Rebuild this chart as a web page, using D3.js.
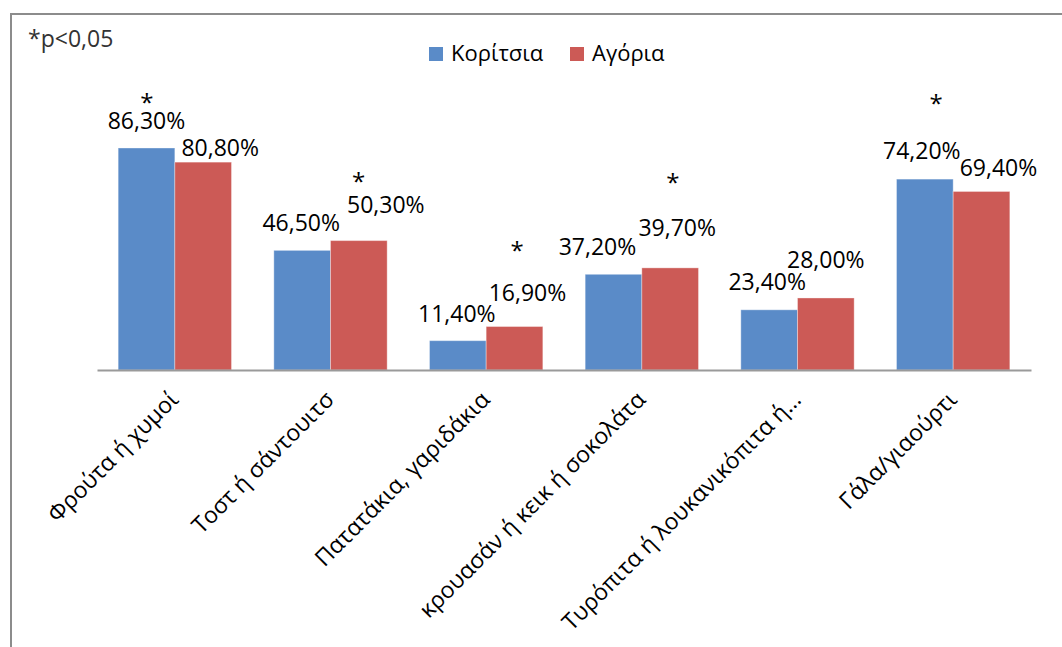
<!DOCTYPE html>
<html>
<head>
<meta charset="utf-8">
<script src="https://cdn.jsdelivr.net/npm/d3@7"></script>
<style>
  html, body { margin: 0; padding: 0; background: #fff; }
  svg { display: block; }
  text { font-family: "Open Sans", "Noto Sans", sans-serif; }
</style>
</head>
<body>
<svg id="chart" width="1062" height="647"></svg>
<script>
// ---- data ----
const categories = [
  "Φρούτα ή χυμοί",
  "Τοστ ή σάντουιτσ",
  "Πατατάκια, γαριδάκια",
  "κρουασάν ή κεικ ή σοκολάτα",
  "Τυρόπιτα ή λουκανικόπιτα ή…",
  "Γάλα/γιαούρτι"
];
const seriesNames = ["Κορίτσια", "Αγόρια"];
const girls = [86.3, 46.5, 11.4, 37.2, 23.4, 74.2];
const boys  = [80.8, 50.3, 16.9, 39.7, 28.0, 69.4];
const significant = [true, true, true, true, false, true];
const noteText = "*p<0,05";

// ---- layout (manual label placements as in the original) ----
const girlsLabelNudge = [[0, -19], [-1, -19], [-1, -19], [-16, -19], [-2, -20], [-3, -20]];
const boysLabelNudge  = [[17, -6], [27, -28], [13, -26], [7, -32], [0, -30], [17, -15]];
const starLayout      = [[-28, 105.2], [28, 74.5], [31, 48], [31, 74.1], [0, 0], [-17, 104.8]];

const colors = ["#5A8BC8", "#CC5A56"];
const svg = d3.select("#chart");

// frame
svg.append("rect")
  .attr("x", 11).attr("y", 14)
  .attr("width", 1100).attr("height", 700)
  .attr("fill", "none").attr("stroke", "#8c8c8c").attr("stroke-width", 2);

const x0 = d3.scaleBand().domain(categories).range([97, 1031])
  .paddingInner(0.272).paddingOuter(0.136);
const x1 = d3.scaleBand().domain(seriesNames).range([0, x0.bandwidth()]);
const y = d3.scaleLinear().domain([0, 100]).range([370, 112.75]);

const series = [girls, boys];
const nudges = [girlsLabelNudge, boysLabelNudge];

series.forEach((vals, s) => {
  const g = svg.append("g");
  g.selectAll("rect").data(vals).join("rect")
    .attr("x", (d, i) => x0(categories[i]) + x1(seriesNames[s]))
    .attr("y", d => y(d))
    .attr("width", x1.bandwidth())
    .attr("height", d => y(0) - y(d))
    .attr("fill", colors[s])
    .attr("stroke", "rgba(255,255,255,0.35)")
    .attr("stroke-width", 1);
  g.selectAll("text").data(vals).join("text")
    .attr("x", (d, i) => x0(categories[i]) + x1(seriesNames[s]) + x1.bandwidth() / 2 + nudges[s][i][0])
    .attr("y", (d, i) => y(d) + nudges[s][i][1])
    .attr("text-anchor", "middle")
    .attr("font-size", 23)
    .attr("fill", "#000")
    .text(d => d.toFixed(2).replace(".", ",") + "%");
});

// significance stars
svg.append("g").selectAll("text")
  .data(categories.map((c, i) => ({ c, i })).filter(d => significant[d.i]))
  .join("text")
  .attr("x", d => x0(d.c) + x0.bandwidth() / 2 + starLayout[d.i][0])
  .attr("y", d => y(starLayout[d.i][1]) + 12)
  .attr("text-anchor", "middle")
  .attr("font-size", 24)
  .attr("fill", "#000")
  .text("*");

// x axis
const xAxis = d3.axisBottom(x0).tickSize(0).tickPadding(0);
const ax = svg.append("g").attr("transform", "translate(0,370)").call(xAxis);
ax.select(".domain").attr("stroke", "#9a9a9a").attr("stroke-width", 2);
ax.selectAll(".tick text")
  .attr("font-size", 23)
  .attr("font-family", "Open Sans, Noto Sans, sans-serif")
  .attr("fill", "#000")
  .attr("text-anchor", "end")
  .attr("dy", null)
  .attr("y", null)
  .attr("transform", "translate(5,31) rotate(-45)");

// note
svg.append("text")
  .attr("x", 28).attr("y", 47)
  .attr("font-size", 23)
  .attr("fill", "#333")
  .text(noteText);

// legend
const legend = svg.append("g");
const legendX = [429, 570];
seriesNames.forEach((n, i) => {
  legend.append("rect")
    .attr("x", legendX[i]).attr("y", 47)
    .attr("width", 14).attr("height", 14)
    .attr("fill", colors[i]);
  legend.append("text")
    .attr("x", legendX[i] + 22).attr("y", 61)
    .attr("font-size", 22)
    .attr("fill", "#000")
    .text(n);
});
</script>
</body>
</html>
